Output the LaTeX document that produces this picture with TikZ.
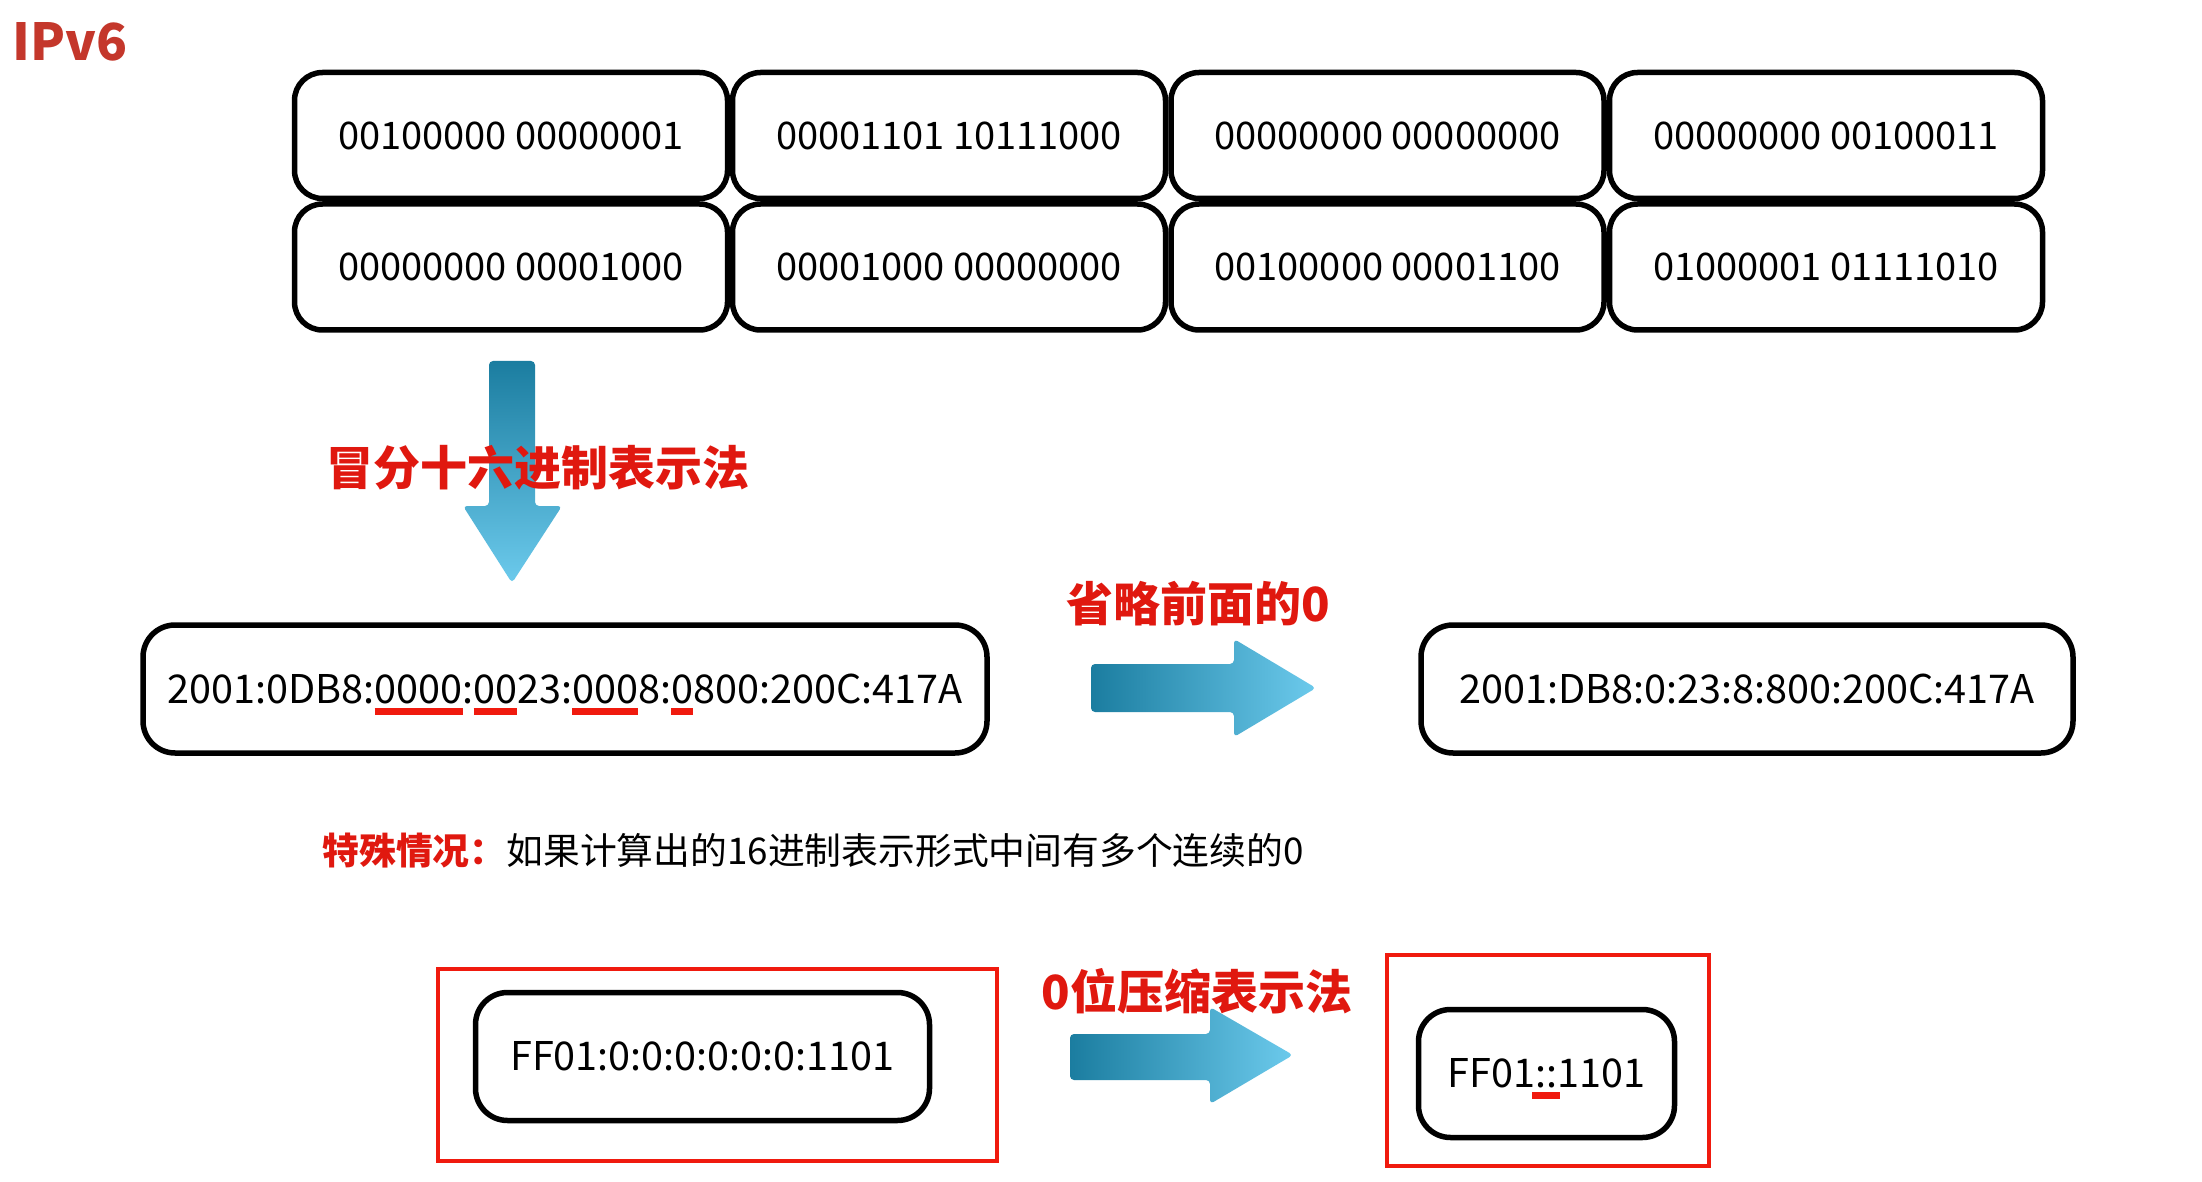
\documentclass[tikz,border=0pt]{standalone}
\usepackage{fontspec}
\setmainfont{Noto Sans CJK SC}
\definecolor{titlered}{HTML}{C4372B}
\definecolor{hand}{HTML}{E0180F}
\definecolor{boxred}{HTML}{F01A0E}
\definecolor{adark}{HTML}{1B7DA0}
\definecolor{alight}{HTML}{6CCAEC}
\newlength\ulw
\newcommand\redul[2][0pt]{\settowidth{\ulw}{#2}\addtolength{\ulw}{2\dimexpr#1\relax}%
  \rlap{\hspace*{-#1}\smash{\color{boxred}\rule[-5.5pt]{\ulw}{3.5pt}}}#2}
\tikzset{
  bin/.style={draw, line width=2.75pt, rounded corners=14pt, minimum width=216.5pt,
    minimum height=63pt, inner sep=0pt, font=\fontsize{19}{19}\selectfont},
  addr/.style={draw, line width=2.75pt, rounded corners=16pt, minimum height=64pt,
    inner sep=0pt, font=\fontsize{19.8}{19.8}\selectfont},
  redframe/.style={draw=boxred, line width=2pt},
  handlabel/.style={text=hand, font=\fontsize{23.5}{23.5}\selectfont\bfseries, inner sep=0pt},
  bigarrowv/.style={top color=adark, bottom color=alight, rounded corners=2pt},
  bigarrowh/.style={left color=adark, right color=alight, rounded corners=2pt}
}
\begin{document}
\begin{tikzpicture}[x=0.5pt,y=-0.5pt]
\fill[white] (0,0) rectangle (2202,1182);
\useasboundingbox (0,0) rectangle (2202,1182);

\node[text=titlered, font=\fontsize{25.5}{25.5}\selectfont\bfseries, inner sep=0pt] (title) at (70,42) {IPv6};

% binary grid
\node[bin] (b11) at (511,135.5) {00100000 00000001};
\node[bin] (b12) at (949,135.5) {00001101 10111000};
\node[bin] (b13) at (1387.5,135.5) {00000000 00000000};
\node[bin] (b14) at (1826,135.5) {00000000 00100011};
\node[bin] (b21) at (511,267) {00000000 00001000};
\node[bin] (b22) at (949,267) {00001000 00000000};
\node[bin] (b23) at (1387.5,267) {00100000 00001100};
\node[bin] (b24) at (1826,267) {01000001 01111010};

% down arrow
\shade[bigarrowv] (489,361) -- (535,361) -- (535,506) -- (562,506) -- (512,583) -- (463,506) -- (489,506) -- cycle;
\node[handlabel] (hexlabel) at (538,468) {冒分十六进制表示法};

% middle row
\node[addr, minimum width=422pt] (full) at (565,689)
  {2001:0DB8:\redul{0000}:\redul{00}23:\redul{000}8:\redul{0}800:200C:417A};
\node[handlabel] (omitlabel) at (1198,604) {省略前面的0};
\shade[bigarrowh] (1091,664) -- (1234,664) -- (1234,639) -- (1316,688) -- (1234,737) -- (1234,712) -- (1091,712) -- cycle;
\node[addr, minimum width=326pt] (short) at (1747,689) {2001:DB8:0:23:8:800:200C:417A};

% special case
\node[anchor=west, inner sep=0pt, font=\fontsize{18.4}{18.4}\selectfont] (special) at (322,851)
  {{\color{hand}\bfseries 特殊情况：}如果计算出的16进制表示形式中间有多个连续的0};

% bottom row
\draw[redframe] (438,969) rectangle (997,1161);
\node[addr, minimum width=227pt] (ffull) at (702.5,1056.5) {FF01:0:0:0:0:0:0:1101};
\node[handlabel] (zerolabel) at (1197,991) {0位压缩表示法};
\shade[bigarrowh] (1070,1034) -- (1210,1034) -- (1210,1007) -- (1293,1055) -- (1210,1104) -- (1210,1080) -- (1070,1080) -- cycle;
\draw[redframe] (1387,955) rectangle (1709,1166);
\node[addr, minimum width=128pt] (fshort) at (1546.5,1073.5) {FF01\redul[1.5pt]{::}1101};
\end{tikzpicture}
\end{document}
